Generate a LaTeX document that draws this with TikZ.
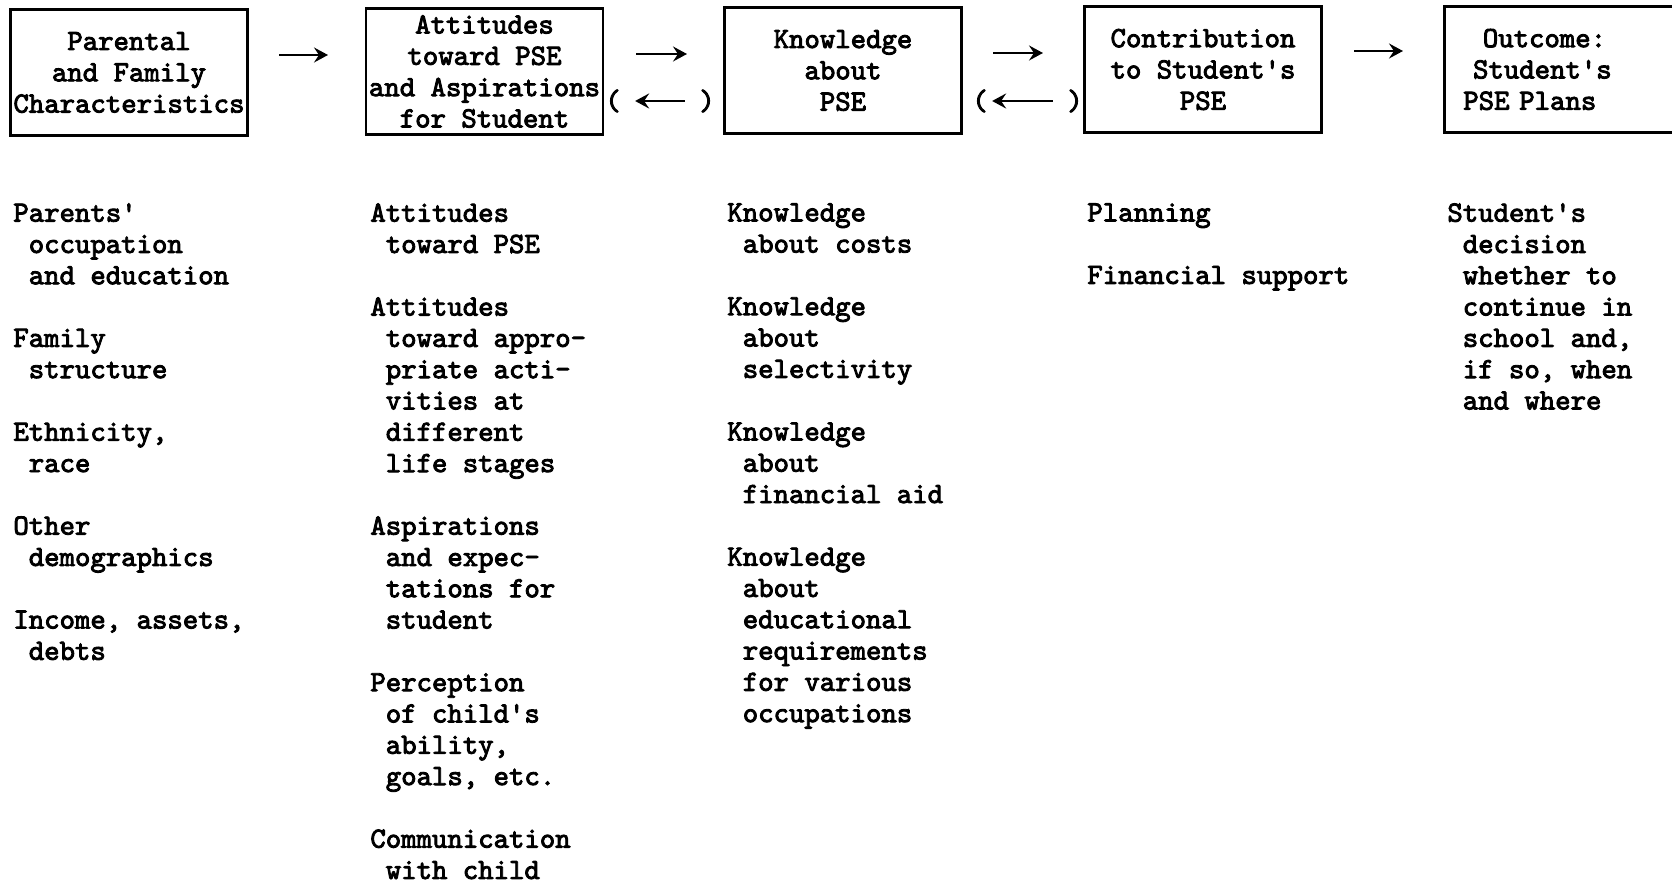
\documentclass[tikz,border=0pt]{standalone}
\usepackage{fontspec}
\newfontfamily\typewriter{lmmono10-regular.otf}[FakeBold=3]
\usetikzlibrary{arrows.meta}

\begin{document}
\begin{tikzpicture}[x=0.5pt, y=-0.5pt, >={Stealth[length=7pt, width=7.5pt, inset=2.5pt]},
  every node/.style={font=\typewriter\fontsize{14.67}{15.65}\selectfont\frenchspacing},
  box/.style={draw, line width=1.3pt, inner sep=0pt, align=center, minimum width=118.5pt, minimum height=63pt},
  list/.style={anchor=north west, inner sep=0pt, align=left},
  paren/.style={inner sep=0pt},
  link/.style={->, line width=1.2pt}]
\useasboundingbox (0,0) rectangle (1672,882);
\clip (0,0) rectangle (1672,882);

\node[box] (parents) at (129,72.5) {Parental\\and Family\\Characteristics};
\node[box] (attitudes) at (484.5,71.5) {Attitudes\\toward PSE\\and Aspirations\\for Student};
\node[box] (knowledge) at (843,70.5) {Knowledge\\about\\PSE};
\node[box] (contribution) at (1203,69.5) {Contribution\\to Student's\\PSE};
\node[box, anchor=west, align=left, text width=125pt, inner xsep=9.5pt] (outcome) at (1443,69.5)
  {~~Outcome:\\~Student's\\PSE Plans};

\coordinate (f12a) at (279,55);  \coordinate (f12b) at (328,55);
\coordinate (f23a) at (636,54);  \coordinate (f23b) at (687,54);
\coordinate (f34a) at (993,53);  \coordinate (f34b) at (1043,53);
\coordinate (f45a) at (1354,51); \coordinate (f45b) at (1403,51);
\draw[link] (f12a) -- (f12b);
\draw[link] (f23a) -- (f23b);
\draw[link] (f34a) -- (f34b);
\draw[link] (f45a) -- (f45b);

\node[paren] (lp23) at (613,101) {(};
\node[paren] (rp23) at (707,101) {)};
\node[paren] (lp34) at (980,101) {(};
\node[paren] (rp34) at (1075,101) {)};
\draw[link, shorten >=7pt, shorten <=7pt] (rp23) -- (lp23);
\draw[link, shorten >=2pt, shorten <=7pt] (rp34) -- (lp34);

\node[list] (family) at (13,203) {Parents'\\~occupation\\~and education\\[15.65pt]Family\\~structure\\[15.65pt]Ethnicity,\\~race\\[15.65pt]Other\\~demographics\\[15.65pt]Income, assets,\\~debts};
\node[list] (views) at (370,203) {Attitudes\\~toward PSE\\[15.65pt]Attitudes\\~toward appro-\\~priate acti-\\~vities at\\~different\\~life stages\\[15.65pt]Aspirations\\~and expec-\\~tations for\\~student\\[15.65pt]Perception\\~of child's\\~ability,\\~goals, etc.\\[15.65pt]Communication\\~with child};
\node[list] (facts) at (727,203) {Knowledge\\~about costs\\[15.65pt]Knowledge\\~about\\~selectivity\\[15.65pt]Knowledge\\~about\\~financial aid\\[15.65pt]Knowledge\\~about\\~educational\\~requirements\\~for various\\~occupations};
\node[list] (support) at (1087,203) {Planning\\[15.65pt]Financial support};
\node[list] (plans) at (1447,203) {Student's\\~decision\\~whether to\\~continue in\\~school and,\\~if so, when\\~and where};
\end{tikzpicture}
\end{document}
